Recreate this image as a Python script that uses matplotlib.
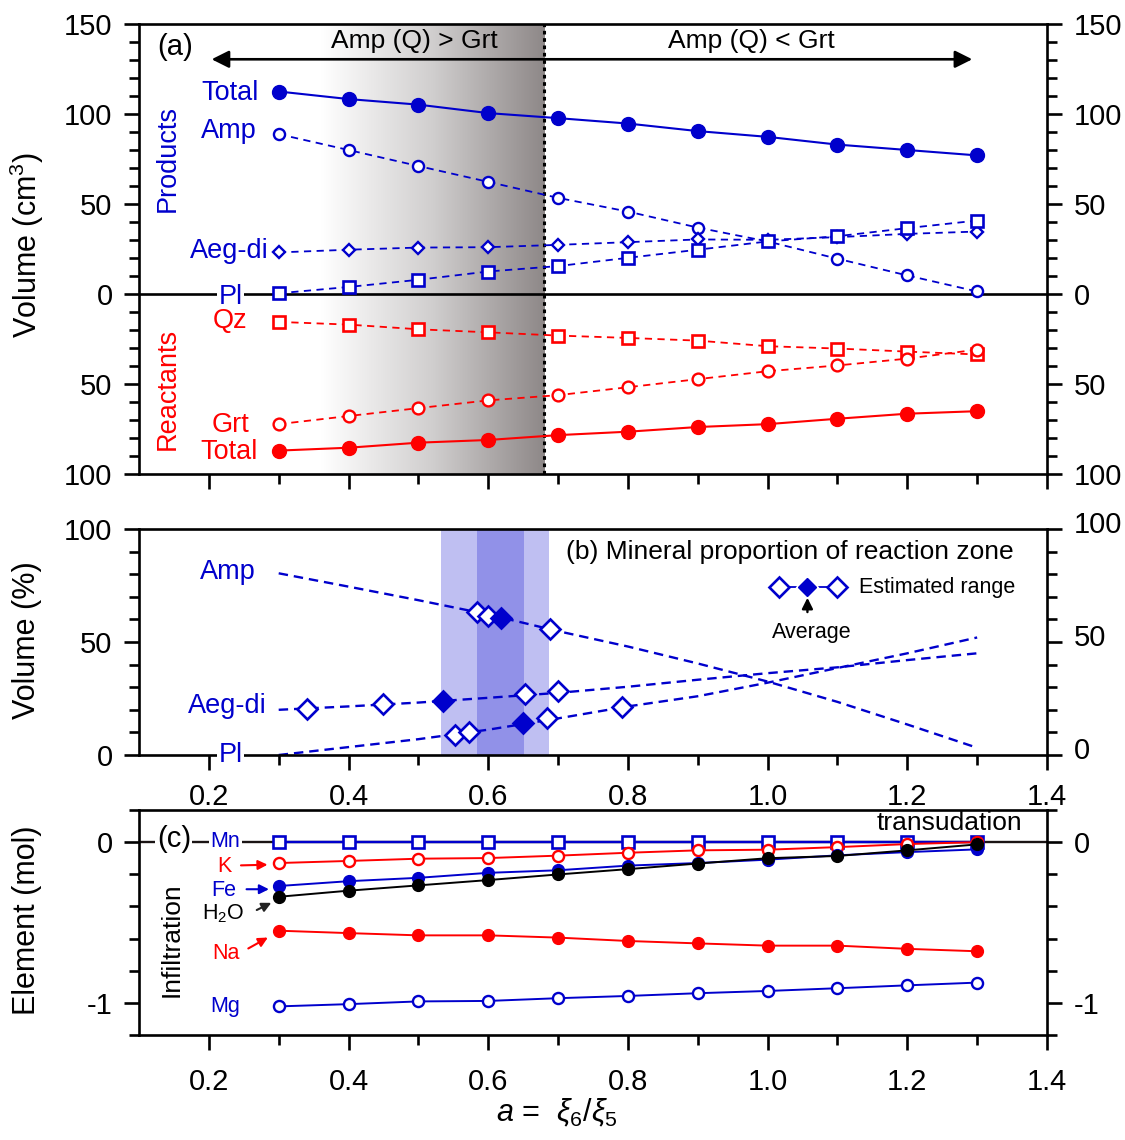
import numpy as np
import matplotlib
matplotlib.use('Agg')
import matplotlib.pyplot as plt
from matplotlib.colors import LinearSegmentedColormap
from matplotlib.ticker import FuncFormatter, FixedLocator
from matplotlib.transforms import ScaledTranslation

plt.rcParams['font.family'] = ['Liberation Sans', 'DejaVu Sans']
plt.rcParams['axes.unicode_minus'] = False
plt.rcParams['mathtext.fontset'] = 'custom'
plt.rcParams['mathtext.rm'] = 'Liberation Sans'
plt.rcParams['mathtext.it'] = 'Liberation Sans:italic'

BLUE = '#0000cc'
RED  = '#ff0000'

# x values shared by every series
a_vals = [0.3, 0.4, 0.5, 0.6, 0.7, 0.8, 0.9, 1.0, 1.1, 1.2, 1.3]

# (a) volumes, cm3 (reactants negative)
prod_total = [112.5, 108.3, 105.2, 100.5, 97.7, 94.7, 90.5, 87.3, 83.0, 80.0, 77.0]
prod_amp   = [88.8, 80.0, 71.1, 62.3, 53.4, 45.8, 36.9, 29.2, 19.6, 10.3, 1.4]
prod_aegdi = [23.1, 24.6, 25.8, 26.0, 27.3, 28.8, 30.3, 30.1, 31.6, 33.4, 34.7]
prod_pl    = [0.4, 3.9, 7.9, 12.5, 15.5, 20.1, 24.6, 29.2, 32.1, 36.6, 40.8]
reac_qz    = [-15.5, -17.0, -19.6, -21.3, -23.1, -24.4, -25.9, -29.0, -30.3, -32.0, -33.6]
reac_grt   = [-72.3, -67.8, -63.4, -59.1, -56.2, -51.8, -47.3, -42.9, -39.7, -35.9, -30.9]
reac_total = [-87.0, -85.4, -82.6, -81.1, -78.4, -76.5, -73.9, -72.3, -69.3, -66.5, -65.1]

# (b) volume %
pct_amp   = [80.4, 74.5, 68.5, 62.2, 54.8, 48.0, 40.5, 32.5, 23.5, 13.5, 3.2]
pct_aegdi = [20.0, 21.5, 23.2, 25.3, 27.5, 30.2, 33.3, 36.2, 38.8, 42.0, 45.0]
pct_pl    = [0.0, 3.5, 7.0, 11.2, 16.2, 21.5, 26.0, 32.0, 38.5, 45.0, 52.0]

# (b) estimated ranges (open) and averages (filled)
amp_rng_x   = [0.584, 0.599, 0.688]
amp_rng_y   = [63.1, 61.6, 55.8]
amp_avg     = [0.618, 60.5]
aegdi_rng_x = [0.340, 0.450, 0.652, 0.700]
aegdi_rng_y = [20.4, 22.4, 27.0, 28.3]
aegdi_avg   = [0.535, 24.0]
pl_rng_x    = [0.552, 0.573, 0.684, 0.792]
pl_rng_y    = [8.8, 10.0, 16.2, 21.1]
pl_avg      = [0.650, 14.0]
band_outer  = [0.533, 0.687]
band_inner  = [0.584, 0.651]

# (c) element, mol
el_mn  = [0.0] * 11
el_k   = [-0.130, -0.117, -0.103, -0.099, -0.084, -0.066, -0.051, -0.047, -0.031, -0.012, 0.0]
el_fe  = [-0.273, -0.243, -0.222, -0.191, -0.175, -0.146, -0.130, -0.109, -0.082, -0.062, -0.045]
el_h2o = [-0.340, -0.302, -0.269, -0.236, -0.201, -0.168, -0.133, -0.100, -0.086, -0.051, -0.014]
el_na  = [-0.551, -0.566, -0.580, -0.580, -0.594, -0.615, -0.630, -0.644, -0.644, -0.664, -0.679]
el_mg  = [-1.022, -1.008, -0.991, -0.988, -0.971, -0.957, -0.940, -0.926, -0.909, -0.891, -0.874]

boundary = 0.68

TICK_FS  = 21
LABEL_FS = 19.5


def style_axes(ax, ymajor, yminor):
    for s in ax.spines.values():
        s.set_linewidth(1.9)
    ax.set_xlim(0.1, 1.4)
    ax.xaxis.set_major_locator(FixedLocator([0.2, 0.4, 0.6, 0.8, 1.0, 1.2, 1.4]))
    ax.xaxis.set_minor_locator(FixedLocator([0.3, 0.5, 0.7, 0.9, 1.1, 1.3]))
    ax.yaxis.set_major_locator(FixedLocator(ymajor))
    ax.yaxis.set_minor_locator(FixedLocator(yminor))
    ax.tick_params(which='both', direction='out', width=1.9, labelsize=TICK_FS,
                   left=True, right=True, top=False, bottom=True,
                   labelleft=True, labelright=True)
    ax.tick_params(which='major', length=11)
    ax.tick_params(which='minor', length=7)
    ax.tick_params(axis='y', pad=8)
    ax.tick_params(axis='x', pad=9)


def panel_a(ax):
    style_axes(ax, [-100, -50, 0, 50, 100, 150], list(range(-90, 150, 10)))
    ax.set_ylim(-100, 150)
    ax.yaxis.set_major_formatter(FuncFormatter(lambda v, p: '%d' % abs(v)))
    ax.tick_params(axis='x', labelbottom=False)

    cmap = LinearSegmentedColormap.from_list('shade', ['#ffffff', '#d0cece', '#8e8888'])
    grad = np.linspace(0, 1, 256)
    ax.imshow(grad[np.newaxis, :], extent=[0.36, boundary, -100, 150], aspect='auto',
              cmap=cmap, zorder=0, interpolation='bilinear')
    ax.axvline(boundary, color='black', ls=(0, (1.2, 1.2)), lw=2.2, zorder=1)
    ax.axhline(0, color='black', lw=1.9, zorder=1)

    dash = (0, (4, 3))
    ax.plot(a_vals, prod_total, '-o', color=BLUE, lw=1.5, ms=10, zorder=3)
    ax.plot(a_vals, prod_amp, 'o', ls=dash, color=BLUE, lw=1.3, ms=8, mfc='white', mew=1.7, zorder=3)
    ax.plot(a_vals, prod_aegdi, 'D', ls=dash, color=BLUE, lw=1.3, ms=6, mfc='white', mew=1.7, zorder=3)
    ax.plot(a_vals, prod_pl, 's', ls=dash, color=BLUE, lw=1.3, ms=9, mfc='white', mew=1.9, zorder=3)
    ax.plot(a_vals, reac_qz, 's', ls=dash, color=RED, lw=1.3, ms=9, mfc='white', mew=1.9, zorder=3)
    ax.plot(a_vals, reac_grt, 'o', ls=dash, color=RED, lw=1.3, ms=8.5, mfc='white', mew=1.7, zorder=3)
    ax.plot(a_vals, reac_total, '-o', color=RED, lw=1.5, ms=10, zorder=3)

    ax.annotate('', xy=(0.2, 130.4), xytext=(1.297, 130.4),
                arrowprops=dict(arrowstyle='<|-|>', color='black', lw=1.9, mutation_scale=26))
    ax.text(0.494, 140.5, 'Amp (Q) > Grt', ha='center', va='center', fontsize=19)
    ax.text(0.977, 140.5, 'Amp (Q) < Grt', ha='center', va='center', fontsize=19)
    ax.text(0.152, 137, '(a)', ha='center', va='center', fontsize=21)

    ax.text(0.271, 111.6, 'Total', ha='right', va='center', fontsize=LABEL_FS, color=BLUE)
    ax.text(0.269, 90.5, 'Amp', ha='right', va='center', fontsize=LABEL_FS, color=BLUE)
    ax.text(0.141, 75, 'Products', ha='center', va='center', rotation=90, fontsize=LABEL_FS, color=BLUE)
    ax.text(0.286, 24, 'Aeg-di', ha='right', va='center', fontsize=LABEL_FS, color=BLUE)
    ax.text(0.231, -1.5, 'Pl', ha='center', va='center', fontsize=LABEL_FS, color=BLUE, zorder=2,
            bbox=dict(facecolor='white', edgecolor='none', pad=1))
    ax.text(0.231, -15, 'Qz', ha='center', va='center', fontsize=LABEL_FS, color=RED)
    ax.text(0.141, -52.5, 'Reactants', ha='center', va='center', rotation=90, fontsize=LABEL_FS, color=RED)
    ax.text(0.231, -73, 'Grt', ha='center', va='center', fontsize=LABEL_FS, color=RED)
    ax.text(0.27, -88, 'Total', ha='right', va='center', fontsize=LABEL_FS, color=RED)


def panel_b(fig, ax):
    style_axes(ax, [0, 50, 100], list(range(10, 100, 10)))
    ax.set_ylim(0, 100)
    ax.yaxis.set_major_formatter(FuncFormatter(lambda v, p: '%d' % v))
    ax.xaxis.set_major_formatter(FuncFormatter(lambda v, p: '%.1f' % v))

    ax.axvspan(band_outer[0], band_outer[1], color='#bfbff2', lw=0, zorder=0)
    ax.axvspan(band_inner[0], band_inner[1], color='#9191e8', lw=0, zorder=0)

    dash = (0, (4, 2.5))
    for vals in (pct_amp, pct_aegdi, pct_pl):
        ax.plot(a_vals, vals, ls=dash, color=BLUE, lw=1.7, zorder=2)
    for xs, ys in ((amp_rng_x, amp_rng_y), (aegdi_rng_x, aegdi_rng_y), (pl_rng_x, pl_rng_y)):
        ax.plot(xs, ys, 'D', color=BLUE, ms=10.5, mfc='white', mew=1.9, zorder=3)
    for pt in (amp_avg, aegdi_avg, pl_avg):
        ax.plot(pt[0], pt[1], 'D', color=BLUE, ms=10.5, mew=1.9, zorder=3)

    ax.text(0.267, 81, 'Amp', ha='right', va='center', fontsize=LABEL_FS, color=BLUE)
    ax.text(0.283, 21.7, 'Aeg-di', ha='right', va='center', fontsize=LABEL_FS, color=BLUE)
    ax.text(0.231, 0, 'Pl', ha='center', va='center', fontsize=LABEL_FS, color=BLUE, zorder=5,
            clip_on=False, bbox=dict(facecolor='white', edgecolor='none', pad=1))
    ax.text(0.711, 89.8, '(b) Mineral proportion of reaction zone', ha='left', va='center', fontsize=19)

    ax.plot([1.017, 1.1], [74.3, 74.3], '-', color=BLUE, lw=1.3, zorder=2)
    ax.plot([1.017, 1.1], [74.3, 74.3], 'D', color=BLUE, ms=10.5, mfc='white', mew=1.9, zorder=3)
    ax.plot([1.057], [74.3], 'D', color=BLUE, ms=10.5, mew=1.9, mec='white', zorder=3)
    ax.plot([1.057], [74.3], 'D', color=BLUE, ms=9.5, zorder=4)
    ax.text(1.131, 74.3, 'Estimated range', ha='left', va='center', fontsize=15.5)
    ax.annotate('', xy=(1.057, 70.8), xytext=(1.057, 62.0),
                arrowprops=dict(arrowstyle='-|>', color='black', lw=1.7, mutation_scale=16))
    ax.text(1.063, 54, 'Average', ha='center', va='center', fontsize=15.5)

    # right-hand labels sit a little higher in the original
    shift = ScaledTranslation(0, 7 / 100, fig.dpi_scale_trans)
    for t in ax.yaxis.get_major_ticks():
        t.label2.set_transform(t.label2.get_transform() + shift)


def panel_c(ax):
    style_axes(ax, [-1, 0], [-1.2, -0.8, -0.6, -0.4, -0.2, 0.2])
    ax.set_ylim(-1.2, 0.2)
    ax.yaxis.set_major_formatter(FuncFormatter(lambda v, p: '%d' % round(v)))
    ax.xaxis.set_major_formatter(FuncFormatter(lambda v, p: '%.1f' % v))
    ax.tick_params(axis='x', pad=13)

    ax.axhline(0, color='#1a1414', lw=1.7, zorder=1)
    ax.plot(a_vals, el_mn, 's-', color=BLUE, lw=1.7, ms=8, mfc='white', mew=1.9, zorder=3)
    ax.plot(a_vals, el_k, 'o-', color=RED, lw=1.4, ms=8, mfc='white', mew=1.7, zorder=3)
    ax.plot(a_vals, el_fe, 'o-', color=BLUE, lw=1.4, ms=8.5, zorder=3)
    ax.plot(a_vals, el_h2o, 'o-', color='black', lw=1.4, ms=8.5, zorder=3)
    ax.plot(a_vals, el_na, 'o-', color=RED, lw=1.4, ms=8.5, zorder=3)
    ax.plot(a_vals, el_mg, 'o-', color=BLUE, lw=1.4, ms=8, mfc='white', mew=1.7, zorder=3)

    box = dict(facecolor='white', edgecolor='none', pad=1)
    ax.text(0.15, 0.02, '(c)', ha='center', va='center', fontsize=21, bbox=box, zorder=5)
    ax.text(0.224, 0.005, 'Mn', ha='center', va='center', fontsize=15.5, color=BLUE, bbox=box, zorder=5)
    ax.text(0.222, -0.15, 'K', ha='center', va='center', fontsize=15.5, color=RED)
    ax.text(0.222, -0.30, 'Fe', ha='center', va='center', fontsize=15.5, color=BLUE)
    ax.text(0.221, -0.445, 'H$_2$O', ha='center', va='center', fontsize=15.5, color='black')
    ax.text(0.224, -0.69, 'Na', ha='center', va='center', fontsize=15.5, color=RED)
    ax.text(0.224, -1.02, 'Mg', ha='center', va='center', fontsize=15.5, color=BLUE)
    ax.text(0.146, -0.607, 'Infiltration', ha='center', va='center', rotation=90, fontsize=19)
    ax.text(1.26, 0.12, 'transudation', ha='center', va='center', fontsize=19)

    arrows = [((0.242, -0.145), (0.288, -0.14), RED),
              ((0.250, -0.293), (0.290, -0.293), BLUE),
              ((0.265, -0.43), (0.293, -0.37), '#222222'),
              ((0.253, -0.67), (0.288, -0.585), RED)]
    for start, end, col in arrows:
        ax.annotate('', xy=end, xytext=start,
                    arrowprops=dict(arrowstyle='-|>', color=col, lw=1.5, mutation_scale=14))


def main():
    fig = plt.figure(figsize=(11.25, 11.4), dpi=100)
    W, H = 1125.0, 1140.0
    left, right = 139 / W, 1047 / W

    ax_a = fig.add_axes([left, 1 - 474 / H, right - left, 450 / H])
    ax_b = fig.add_axes([left, 1 - 755 / H, right - left, 226 / H])
    ax_c = fig.add_axes([left, 1 - 1035 / H, right - left, 225 / H])
    ax_c.set_zorder(3)
    ax_c.set_facecolor('white')

    panel_a(ax_a)
    panel_b(fig, ax_b)
    panel_c(ax_c)

    fig.text(27 / W, 1 - 245 / H, 'Volume (cm$^3$)', rotation=90, ha='center', va='center', fontsize=22)
    fig.text(27 / W, 1 - 640 / H, 'Volume (%)', rotation=90, ha='center', va='center', fontsize=22)
    fig.text(27 / W, 1 - 920 / H, 'Element (mol)', rotation=90, ha='center', va='center', fontsize=22)
    fig.text(557 / W, 1 - 1113 / H, r'$a$ =  $\xi_6$/$\xi_5$', ha='center', va='center', fontsize=22)

    fig.savefig('out.png', dpi=100)
    plt.close(fig)


if __name__ == "__main__":
    main()
